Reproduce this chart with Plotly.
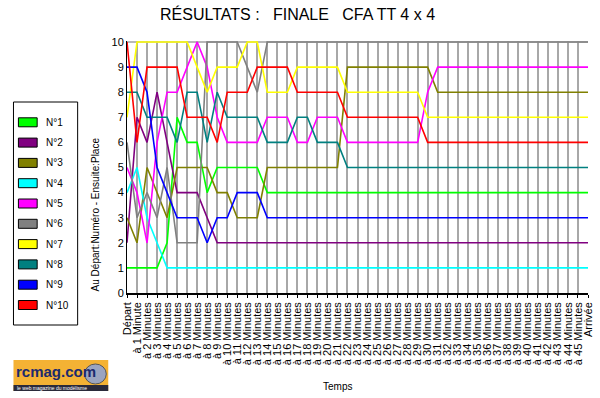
import plotly.graph_objects as go

# ---------------- data ----------------
categories = ["Départ", "à 1 Minute"] + ["à %d Minutes" % k for k in range(2, 46)] + ["Arrivée"]

series_names = ["N°1", "N°2", "N°3", "N°4", "N°5", "N°6", "N°7", "N°8", "N°9", "N°10"]
series_colors = ["#00ff00", "#800080", "#808000", "#00ffff", "#ff00ff",
                 "#808080", "#ffff00", "#008080", "#0000ff", "#ff0000"]

n1 = [1, 1, 1, 1, 2, 7, 6, 6, 4, 5, 5, 5, 5, 5, 4, 4, 4, 4, 4, 4, 4, 4, 4, 4,
      4, 4, 4, 4, 4, 4, 4, 4, 4, 4, 4, 4, 4, 4, 4, 4, 4, 4, 4, 4, 4, 4, 4]
n2 = [2, 7, 6, 8, 6, 4, 4, 4, 3, 2, 2, 2, 2, 2, 2, 2, 2, 2, 2, 2, 2, 2, 2, 2,
      2, 2, 2, 2, 2, 2, 2, 2, 2, 2, 2, 2, 2, 2, 2, 2, 2, 2, 2, 2, 2, 2, 2]
n3 = [3, 2, 5, 4, 3, 5, 5, 5, 5, 4, 4, 3, 3, 3, 5, 5, 5, 5, 5, 5, 5, 5, 9, 9,
      9, 9, 9, 9, 9, 9, 9, 8, 8, 8, 8, 8, 8, 8, 8, 8, 8, 8, 8, 8, 8, 8, 8]
n4 = [4, 5, 3, 2, 1, 1, 1, 1, 1, 1, 1, 1, 1, 1, 1, 1, 1, 1, 1, 1, 1, 1, 1, 1,
      1, 1, 1, 1, 1, 1, 1, 1, 1, 1, 1, 1, 1, 1, 1, 1, 1, 1, 1, 1, 1, 1, 1]
n5 = [5, 4, 2, 6, 8, 8, 9, 10, 9, 7, 6, 6, 6, 6, 7, 7, 7, 6, 6, 7, 7, 7, 6, 6,
      6, 6, 6, 6, 6, 6, 8, 9, 9, 9, 9, 9, 9, 9, 9, 9, 9, 9, 9, 9, 9, 9, 9]
n6 = [6, 3, 4, 3, 5, 2, 2, 2, 10, 10, 10, 10, 9, 8, 10, 10, 10, 10, 10, 10, 10, 10, 10, 10,
      10, 10, 10, 10, 10, 10, 10, 10, 10, 10, 10, 10, 10, 10, 10, 10, 10, 10, 10, 10, 10, 10, 10]
n7 = [7, 10, 10, 10, 10, 10, 10, 9, 8, 9, 9, 9, 10, 10, 8, 8, 8, 9, 9, 9, 9, 9, 8, 8,
      8, 8, 8, 8, 8, 8, 7, 7, 7, 7, 7, 7, 7, 7, 7, 7, 7, 7, 7, 7, 7, 7, 7]
n8 = [8, 8, 7, 7, 7, 6, 8, 8, 6, 8, 7, 7, 7, 7, 6, 6, 6, 7, 7, 6, 6, 6, 5, 5,
      5, 5, 5, 5, 5, 5, 5, 5, 5, 5, 5, 5, 5, 5, 5, 5, 5, 5, 5, 5, 5, 5, 5]
n9 = [9, 9, 8, 5, 4, 3, 3, 3, 2, 3, 3, 4, 4, 4, 3, 3, 3, 3, 3, 3, 3, 3, 3, 3,
      3, 3, 3, 3, 3, 3, 3, 3, 3, 3, 3, 3, 3, 3, 3, 3, 3, 3, 3, 3, 3, 3, 3]
n10 = [10, 6, 9, 9, 9, 9, 7, 7, 7, 6, 8, 8, 8, 9, 9, 9, 9, 8, 8, 8, 8, 8, 7, 7,
       7, 7, 7, 7, 7, 7, 6, 6, 6, 6, 6, 6, 6, 6, 6, 6, 6, 6, 6, 6, 6, 6, 6]

series_values = [n1, n2, n3, n4, n5, n6, n7, n8, n9, n10]
y_ticks = [0, 1, 2, 3, 4, 5, 6, 7, 8, 9, 10]

title_text = "RÉSULTATS :   FINALE   CFA TT 4 x 4"
y_title = "Au Départ:Numéro - Ensuite:Place"
x_title = "Temps"

# ---------------- layout geometry ----------------
W, H = 600, 398
L, R, T, B = 127, 6, 41, 105
PW, PH = W - L - R, H - T - B
FONT = "Liberation Sans, Arial, sans-serif"


def px(x):
    return (x - L) / PW


def py(y):
    return (H - B - y) / PH


xs = list(range(len(categories)))

fig = go.Figure()
for name, color, vals in zip(series_names, series_colors, series_values):
    fig.add_trace(go.Scatter(x=xs, y=vals, mode="lines", name=name,
                             line=dict(color=color, width=1.6),
                             showlegend=False, hoverinfo="name+y"))

shapes = []
annotations = []

# top border of plot (gray)
shapes.append(dict(type="line", xref="paper", yref="paper", x0=0, x1=1,
                   y0=py(42), y1=py(42), line=dict(color="#a0a0a0", width=1.5),
                   layer="below"))

# manual legend box
shapes.append(dict(type="rect", xref="paper", yref="paper",
                   x0=px(12), x1=px(77), y0=py(325), y1=py(102),
                   line=dict(color="black", width=1), fillcolor="white"))
for k, (name, color) in enumerate(zip(series_names, series_colors)):
    cy = 122.3 + k * 20.3
    shapes.append(dict(type="rect", xref="paper", yref="paper",
                       x0=px(17), x1=px(36), y0=py(cy + 4.5), y1=py(cy - 4.5),
                       line=dict(color="black", width=1), fillcolor=color))
    annotations.append(dict(text=name, xref="paper", yref="paper",
                            x=px(43), y=py(cy), xanchor="left", yanchor="middle",
                            showarrow=False, font=dict(family=FONT, size=10, color="black")))

# title
annotations.append(dict(text=title_text, xref="paper", yref="paper",
                        x=px(300), y=py(14), xanchor="center", yanchor="middle",
                        showarrow=False, font=dict(family=FONT, size=16, color="black")))
# y title
annotations.append(dict(text=y_title, xref="paper", yref="paper",
                        x=px(95), y=py(214), xanchor="center", yanchor="middle",
                        textangle=-90, showarrow=False,
                        font=dict(family=FONT, size=10, color="black")))
# x title
annotations.append(dict(text=x_title, xref="paper", yref="paper",
                        x=px(340), y=py(386), xanchor="center", yanchor="middle",
                        showarrow=False, font=dict(family=FONT, size=10, color="black")))

# logo
shapes.append(dict(type="rect", xref="paper", yref="paper",
                   x0=px(12), x1=px(108), y0=py(391), y1=py(360),
                   line=dict(width=0), fillcolor="#f4b234"))
shapes.append(dict(type="rect", xref="paper", yref="paper",
                   x0=px(12), x1=px(108), y0=py(391), y1=py(385),
                   line=dict(width=0), fillcolor="#2a2a3a"))
shapes.append(dict(type="circle", xref="paper", yref="paper",
                   x0=px(84), x1=px(106), y0=py(384), y1=py(364),
                   line=dict(color="#555", width=1), fillcolor="#9aa4c0"))
annotations.append(dict(text="<b>rcmag.com</b>", xref="paper", yref="paper",
                        x=px(13), y=py(371), xanchor="left", yanchor="middle",
                        showarrow=False, font=dict(family=FONT, size=15, color="#1c2a6e")))
annotations.append(dict(text="le web magazine du modélisme", xref="paper", yref="paper",
                        x=px(14), y=py(388), xanchor="left", yanchor="middle",
                        showarrow=False, font=dict(family=FONT, size=5, color="white")))

fig.update_layout(
    width=W, height=H,
    margin=dict(l=L, r=R, t=T, b=B, pad=0),
    paper_bgcolor="white", plot_bgcolor="white",
    showlegend=False,
    shapes=shapes, annotations=annotations,
    xaxis=dict(range=[0, len(categories) - 1], tickmode="array", tickvals=xs,
               ticktext=categories, tickangle=-90,
               tickfont=dict(family=FONT, size=11, color="black"),
               showgrid=True, gridcolor="#a8a8a8", gridwidth=1.5,
               showline=True, linecolor="black", linewidth=1.5,
               ticks="outside", ticklen=3, tickcolor="black", zeroline=False,
               fixedrange=True),
    yaxis=dict(range=[0, 10.04], tickmode="array", tickvals=y_ticks,
               tickfont=dict(family=FONT, size=11, color="black"),
               showgrid=False, showline=True, linecolor="black", linewidth=1,
               ticks="", zeroline=False, fixedrange=True),
)

fig.write_html("out.html")
